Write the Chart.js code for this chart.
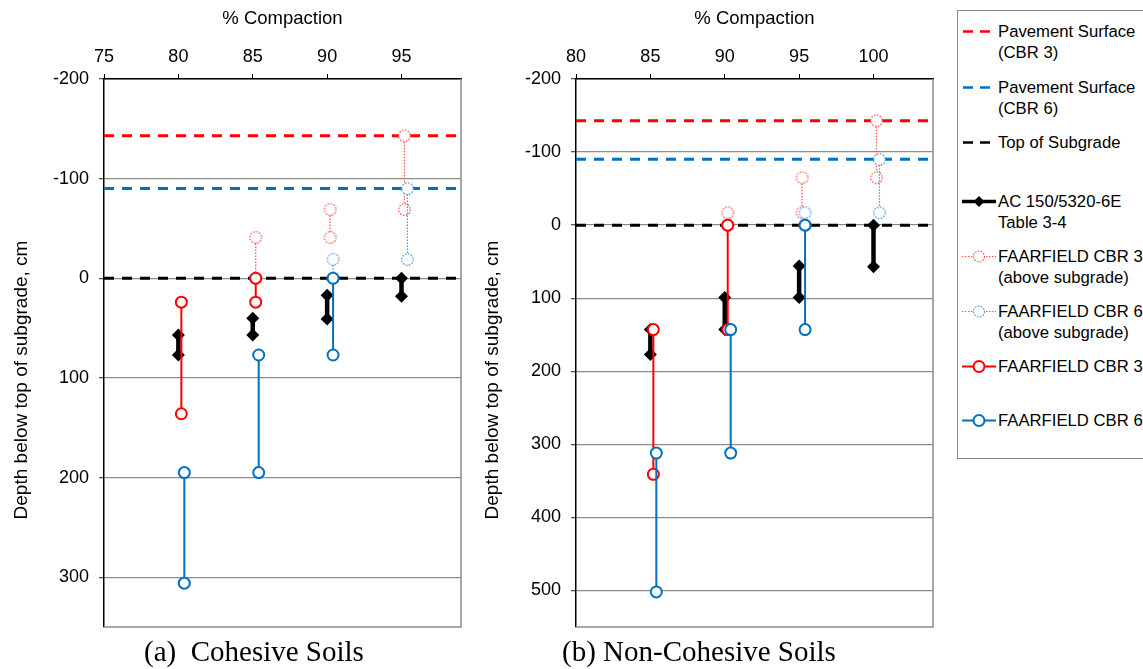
<!DOCTYPE html>
<html>
<head>
<meta charset="utf-8">
<script src="https://cdn.jsdelivr.net/npm/chart.js@4.4.1/dist/chart.umd.min.js"></script>
<style>
body { margin: 0; background: #fff; width: 1143px; height: 669px; overflow: hidden; position: relative; font-family: 'Liberation Sans', Arial, sans-serif; }
canvas { position: absolute; top: 0; }
#chartA { left: 0; }
#chartB { left: 472px; }
.caption { position: absolute; top: 634px; font-family: 'Liberation Serif', 'Times New Roman', serif; font-size: 29px; line-height: 34px; white-space: pre; color: #000; }
#legend { position: absolute; left: 957px; top: 10px; width: 200px; height: 449px; border: 1px solid #8c8c8c; box-sizing: border-box; }
.item { position: absolute; left: 0; width: 200px; font-size: 16.7px; line-height: 21px; color: #000; }
.item svg { position: absolute; left: 4px; top: 0; }
.item span { position: absolute; left: 40px; top: 0; white-space: pre; }
</style>
</head>
<body>
<canvas id="chartA" width="470" height="669"></canvas>
<canvas id="chartB" width="470" height="669"></canvas>
<div class="caption" style="left:144px">(a)  Cohesive Soils</div>
<div class="caption" style="left:562px">(b) Non-Cohesive Soils</div>
<div id="legend"></div>

<script>
// depths in cm below top of subgrade (negative = above subgrade)
// each segment: [% compaction, top depth, bottom depth]

// (a) cohesive soils
const cohX = [75, 99];
const cohY = [-200, 350];
const cohSurface3 = -143;
const cohSurface6 = -90;
const cohAC = [[80, 57, 77], [85, 40, 57], [90, 17, 41], [95, 0, 18]];
const cohCbr3Above = [[85.2, -41, 0], [90.2, -69, -41], [95.2, -143, -69]];
const cohCbr6Above = [[90.4, -19, 0], [95.4, -90, -19]];
const cohCbr3 = [[80.2, 24, 136], [85.2, 0, 24]];
const cohCbr6 = [[80.4, 195, 306], [85.4, 77, 195], [90.4, 0, 77]];

// (b) non-cohesive soils
const nonX = [80, 104];
const nonY = [-200, 550];
const nonSurface3 = -143;
const nonSurface6 = -90;
const nonAC = [[85, 143, 177], [90, 99, 143], [95, 56, 99], [100, 0, 57]];
const nonCbr3Above = [[90.2, -17, 0], [95.2, -65, -17], [100.2, -143, -65]];
const nonCbr6Above = [[95.4, -17, 0], [100.4, -90, -17]];
const nonCbr3 = [[85.2, 143, 341], [90.2, 0, 143]];
const nonCbr6 = [[85.4, 312, 502], [90.4, 143, 312], [95.4, 0, 143]];

const yTitle = 'Depth below top of subgrade, cm';

const RED = '#ff0000';
const BLUE = '#0070c0';
const RED_DOT = '#ff4d4d';
const BLUE_DOT = '#4a94d8';
const FONT = "'Liberation Sans', Arial, sans-serif";

function segPoints(segs) {
  const pts = [];
  segs.forEach((s, i) => {
    if (i > 0) pts.push({x: s[0], y: null});
    pts.push({x: s[0], y: s[1]}, {x: s[0], y: s[2]});
  });
  return pts;
}

function dottedCircle(color) {
  const c = document.createElement('canvas');
  c.width = 15; c.height = 15;
  const g = c.getContext('2d');
  g.fillStyle = '#fff';
  g.beginPath(); g.arc(7.5, 7.5, 5.8, 0, Math.PI * 2); g.fill();
  g.setLineDash([1.6, 1.4]);
  g.strokeStyle = color; g.lineWidth = 1.2;
  g.stroke();
  return c;
}

function hLine(y, xr, color) {
  return {
    data: [{x: xr[0], y: y}, {x: xr[1], y: y}],
    borderColor: color, borderWidth: 3, borderDash: [10, 8],
    pointRadius: 0
  };
}

// gray right/bottom edge of the plot
const frame = {
  id: 'frame',
  beforeDatasetsDraw(chart) {
    const a = chart.chartArea, ctx = chart.ctx;
    ctx.save();
    ctx.strokeStyle = '#8c8c8c';
    ctx.lineWidth = 1.5;
    ctx.beginPath();
    ctx.moveTo(a.right, a.top);
    ctx.lineTo(a.right, a.bottom);
    ctx.lineTo(a.left, a.bottom);
    ctx.stroke();
    ctx.restore();
  }
};

// y axis title sits a bit lower than the plot centre in the original
const sideTitle = {
  id: 'sideTitle',
  afterDraw(chart, args, opts) {
    const ctx = chart.ctx;
    ctx.save();
    ctx.translate(opts.x, opts.y);
    ctx.rotate(-Math.PI / 2);
    ctx.font = '19px ' + FONT;
    ctx.fillStyle = '#000';
    ctx.textAlign = 'center';
    ctx.textBaseline = 'middle';
    ctx.fillText(opts.text, 0, 0);
    ctx.restore();
  }
};

function makeChart(id, xr, yr, s3, s6, ac, c3a, c6a, c3, c6, padLeft, titleX) {
  const font = {family: FONT, size: 18};
  return new Chart(document.getElementById(id), {
    type: 'line',
    data: {
      datasets: [
        { data: segPoints(c6), borderColor: BLUE, borderWidth: 2, pointStyle: 'circle',
          pointRadius: 5.5, pointBorderWidth: 2, pointBorderColor: BLUE, pointBackgroundColor: '#fff' },
        { data: segPoints(c3), borderColor: RED, borderWidth: 2, pointStyle: 'circle',
          pointRadius: 5.5, pointBorderWidth: 2, pointBorderColor: RED, pointBackgroundColor: '#fff' },
        { data: segPoints(ac), borderColor: '#000', borderWidth: 4.5, pointStyle: 'rectRot',
          pointRadius: 6.5, pointBorderWidth: 0, pointBackgroundColor: '#000' },
        { data: segPoints(c6a), borderColor: BLUE_DOT, borderWidth: 1.2, borderDash: [1.5, 1.5],
          pointStyle: dottedCircle(BLUE_DOT), pointRadius: 6 },
        { data: segPoints(c3a), borderColor: RED_DOT, borderWidth: 1.2, borderDash: [1.5, 1.5],
          pointStyle: dottedCircle(RED_DOT), pointRadius: 6 },
        hLine(0, xr, '#000'),
        hLine(s6, xr, BLUE),
        hLine(s3, xr, RED)
      ]
    },
    options: {
      responsive: false,
      animation: false,
      layout: {padding: {left: padLeft, right: 9, top: 0, bottom: 42}},
      plugins: {
        legend: {display: false},
        tooltip: {enabled: false},
        sideTitle: {text: yTitle, x: titleX, y: 380}
      },
      scales: {
        x: {
          type: 'linear', position: 'top', min: xr[0], max: xr[1],
          afterFit: (scale) => { scale.height = 79; },
          ticks: {stepSize: 5, includeBounds: false, color: '#000', font: font, padding: 6},
          grid: {drawOnChartArea: false, drawTicks: true, tickLength: 5, tickColor: '#000'},
          border: {color: '#000', width: 1.5},
          title: {display: true, text: '% Compaction', color: '#000',
                  font: {family: FONT, size: 18.5}, padding: {top: 8, bottom: 0}}
        },
        y: {
          type: 'linear', reverse: true, min: yr[0], max: yr[1],
          afterFit: (scale) => { scale.width = 104 - padLeft; },
          ticks: {stepSize: 100, includeBounds: false, color: '#000', font: font, padding: 10},
          grid: {color: '#8c8c8c', lineWidth: 1.3, tickLength: 5, tickColor: '#555'},
          border: {color: '#000', width: 1.5},
          title: {display: false}
        }
      }
    },
    plugins: [frame, sideTitle]
  });
}

makeChart('chartA', cohX, cohY, cohSurface3, cohSurface6, cohAC, cohCbr3Above, cohCbr6Above, cohCbr3, cohCbr6, 7, 22);
makeChart('chartB', nonX, nonY, nonSurface3, nonSurface6, nonAC, nonCbr3Above, nonCbr6Above, nonCbr3, nonCbr6, 6, 21);

// legend
const legendItems = [
  {top: 10, icon: 'dash', color: RED, text: 'Pavement Surface\n(CBR 3)'},
  {top: 66, icon: 'dash', color: BLUE, text: 'Pavement Surface\n(CBR 6)'},
  {top: 121, icon: 'dash', color: '#000', text: 'Top of Subgrade'},
  {top: 180, icon: 'ac', color: '#000', text: 'AC 150/5320-6E\nTable 3-4'},
  {top: 235, icon: 'dot', color: RED_DOT, text: 'FAARFIELD CBR 3\n(above subgrade)'},
  {top: 290, icon: 'dot', color: BLUE_DOT, text: 'FAARFIELD CBR 6\n(above subgrade)'},
  {top: 345, icon: 'solid', color: RED, text: 'FAARFIELD CBR 3'},
  {top: 399, icon: 'solid', color: BLUE, text: 'FAARFIELD CBR 6'}
];

function iconSvg(kind, color) {
  let s = '<svg width="36" height="21" viewBox="0 0 36 21">';
  if (kind === 'dash') {
    s += `<line x1="1" y1="10.5" x2="31" y2="10.5" stroke="${color}" stroke-width="2.5" stroke-dasharray="10,7"/>`;
  } else if (kind === 'ac') {
    s += `<line x1="0" y1="10.5" x2="34" y2="10.5" stroke="#000" stroke-width="3.5"/>`;
    s += `<polygon points="17,5 22.5,10.5 17,16 11.5,10.5" fill="#000"/>`;
  } else if (kind === 'dot') {
    s += `<line x1="0" y1="10.5" x2="34" y2="10.5" stroke="${color}" stroke-width="1" stroke-dasharray="1.5,1.5"/>`;
    s += `<circle cx="17" cy="10.5" r="5.5" fill="#fff" stroke="${color}" stroke-width="1.1" stroke-dasharray="1.6,1.4"/>`;
  } else {
    s += `<line x1="0" y1="10.5" x2="34" y2="10.5" stroke="${color}" stroke-width="2"/>`;
    s += `<circle cx="17" cy="10.5" r="5.5" fill="#fff" stroke="${color}" stroke-width="2"/>`;
  }
  return s + '</svg>';
}

const legendBox = document.getElementById('legend');
legendItems.forEach(it => {
  const div = document.createElement('div');
  div.className = 'item';
  div.style.top = it.top + 'px';
  div.innerHTML = iconSvg(it.icon, it.color) + '<span></span>';
  div.querySelector('span').textContent = it.text;
  legendBox.appendChild(div);
});
</script>
</body>
</html>
